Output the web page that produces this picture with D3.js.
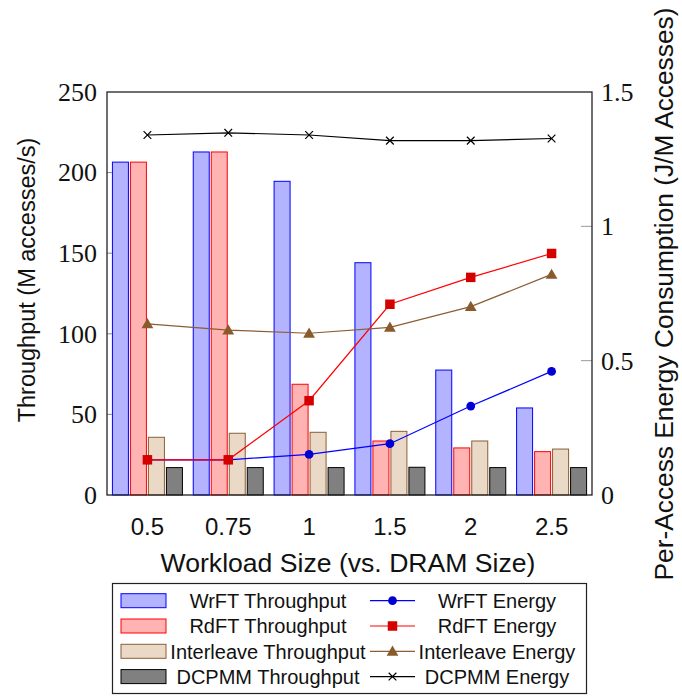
<!DOCTYPE html>
<html lang="en">
<head>
<meta charset="utf-8">
<title>Throughput and Energy vs Workload Size</title>
<style type="text/css">
  body { margin: 0; background-color: white; }
  svg { display: block; }
  .sans { font-family: "Liberation Sans", Arial, Helvetica, sans-serif; fill: #111; }
  .serif { font-family: "Liberation Serif", "Times New Roman", serif; fill: #111; }
</style>
</head>
<body>
<script src="https://cdn.jsdelivr.net/npm/d3@7"></script>
<script type="text/javascript">

  // categories and values
  var sizes = ["0.5", "0.75", "1", "1.5", "2", "2.5"];

  var wrftThroughput = [206.5, 212.8, 194.6, 144.1, 77.5, 54];
  var rdftThroughput = [206.5, 212.8, 68.7, 33.5, 29.2, 26.9];
  var interleaveThroughput = [35.8, 38.3, 38.9, 39.5, 33.5, 28.5];
  var dcpmmThroughput = [17, 17, 17, 17.2, 17, 17];

  var wrftEnergy = [0.131, 0.131, 0.151, 0.191, 0.331, 0.460];
  var rdftEnergy = [0.131, 0.131, 0.351, 0.710, 0.810, 0.899];
  var interleaveEnergy = [0.637, 0.614, 0.602, 0.624, 0.701, 0.821];
  var dcpmmEnergy = [1.340, 1.348, 1.340, 1.319, 1.319, 1.327];

  var leftTicks = [0, 50, 100, 150, 200, 250];
  var rightTicks = [0, 0.5, 1, 1.5];

  var barSeries = [
    { name: "WrFT Throughput", values: wrftThroughput, fill: "#b3b3ff", stroke: "#0000ff" },
    { name: "RdFT Throughput", values: rdftThroughput, fill: "#ffb3b3", stroke: "#ff0000" },
    { name: "Interleave Throughput", values: interleaveThroughput, fill: "#ead9c6", stroke: "#8b5e34" },
    { name: "DCPMM Throughput", values: dcpmmThroughput, fill: "#808080", stroke: "#000000" }
  ];

  var lineSeries = [
    { name: "WrFT Energy", values: wrftEnergy, stroke: "#0000ff", mark: "#0000d4", symbol: "circle" },
    { name: "RdFT Energy", values: rdftEnergy, stroke: "#ff0000", mark: "#d40000", symbol: "square" },
    { name: "Interleave Energy", values: interleaveEnergy, stroke: "#8b5e34", mark: "#8b5a2b", symbol: "triangle" },
    { name: "DCPMM Energy", values: dcpmmEnergy, stroke: "#000000", mark: "#000000", symbol: "cross" }
  ];

  var fullwidth = 682, fullheight = 697;
  var plot = { left: 107, right: 592, top: 92, bottom: 495 };

  var svg = d3.select("body").append("svg")
    .attr("width", fullwidth)
    .attr("height", fullheight);

  var xScale = d3.scaleBand().domain(sizes).range([plot.left, plot.right]);
  var xInner = d3.scaleBand().domain(d3.range(4)).range([-35, 35]).paddingInner(1 / 9);
  var yLeft = d3.scaleLinear().domain([0, 250]).range([plot.bottom, plot.top]);
  var yRight = d3.scaleLinear().domain([0, 1.5]).range([plot.bottom, plot.top]);

  function center(d) { return xScale(d) + xScale.bandwidth() / 2; }

  // bars
  barSeries.forEach(function(s, i) {
    svg.append("g").selectAll("rect")
      .data(s.values)
      .enter()
      .append("rect")
      .attr("x", function(d, j) { return center(sizes[j]) + xInner(i); })
      .attr("y", function(d) { return yLeft(d); })
      .attr("width", xInner.bandwidth())
      .attr("height", function(d) { return yLeft(0) - yLeft(d); })
      .attr("fill", s.fill)
      .attr("stroke", s.stroke)
      .attr("stroke-width", 1);
  });

  // left ticks (inside)
  svg.append("g").selectAll("line")
    .data(leftTicks.slice(1, -1))
    .enter().append("line")
    .attr("x1", plot.left).attr("x2", plot.left + 5)
    .attr("y1", function(d) { return yLeft(d); })
    .attr("y2", function(d) { return yLeft(d); })
    .attr("stroke", "#888").attr("stroke-width", 1);

  svg.append("g").selectAll("line")
    .data(rightTicks.slice(1, -1))
    .enter().append("line")
    .attr("x1", plot.right - 11).attr("x2", plot.right)
    .attr("y1", function(d) { return yRight(d); })
    .attr("y2", function(d) { return yRight(d); })
    .attr("stroke", "#999").attr("stroke-width", 1);

  // energy lines
  var symbolTypes = {
    circle: d3.symbolCircle,
    square: d3.symbolSquare,
    triangle: d3.symbolTriangle,
    cross: d3.symbolX
  };
  var symbolSizes = { circle: 60, square: 90, triangle: 60, cross: 40 };

  lineSeries.forEach(function(s) {
    var line = d3.line()
      .x(function(d, j) { return center(sizes[j]); })
      .y(function(d) { return yRight(d); });

    var g = svg.append("g");
    g.append("path")
      .datum(s.values)
      .attr("d", line)
      .attr("fill", "none")
      .attr("stroke", s.stroke)
      .attr("stroke-width", 1.2);

    g.selectAll("path.mark")
      .data(s.values)
      .enter().append("path")
      .attr("class", "mark")
      .attr("transform", function(d, j) {
        var dy = s.symbol == "triangle" ? 1 : 0;
        return "translate(" + center(sizes[j]) + "," + (yRight(d) + dy) + ")";
      })
      .attr("d", d3.symbol().type(symbolTypes[s.symbol]).size(symbolSizes[s.symbol]))
      .attr("fill", s.symbol == "cross" ? "none" : s.mark)
      .attr("stroke", s.mark)
      .attr("stroke-width", s.symbol == "cross" ? 1.2 : 0);
  });

  // frame
  svg.append("rect")
    .attr("x", plot.left).attr("y", plot.top)
    .attr("width", plot.right - plot.left)
    .attr("height", plot.bottom - plot.top)
    .attr("fill", "none")
    .attr("stroke", "#222")
    .attr("stroke-width", 1.3);

  // tick labels
  svg.append("g").selectAll("text")
    .data(leftTicks)
    .enter().append("text")
    .attr("class", "serif")
    .attr("x", 97)
    .attr("y", function(d) { return yLeft(d); })
    .attr("dy", "0.34em")
    .attr("text-anchor", "end")
    .style("font-size", "26px")
    .text(function(d) { return d; });

  svg.append("g").selectAll("text")
    .data(rightTicks)
    .enter().append("text")
    .attr("class", "serif")
    .attr("x", 601)
    .attr("y", function(d) { return yRight(d); })
    .attr("dy", "0.34em")
    .style("font-size", "26px")
    .text(function(d) { return d; });

  svg.append("g").selectAll("text")
    .data(sizes)
    .enter().append("text")
    .attr("class", "sans")
    .attr("x", function(d) { return center(d); })
    .attr("y", 535)
    .attr("text-anchor", "middle")
    .style("font-size", "24px")
    .text(function(d) { return d; });

  // axis titles
  svg.append("text")
    .attr("class", "sans")
    .attr("x", 348)
    .attr("y", 572)
    .attr("text-anchor", "middle")
    .style("font-size", "26.6px")
    .text("Workload Size (vs. DRAM Size)");

  svg.append("text")
    .attr("class", "sans")
    .attr("transform", "translate(35,280) rotate(-90)")
    .attr("text-anchor", "middle")
    .style("font-size", "23.5px")
    .text("Throughput (M accesses/s)");

  svg.append("text")
    .attr("class", "sans")
    .attr("transform", "translate(673,294) rotate(-90)")
    .attr("text-anchor", "middle")
    .style("font-size", "26.3px")
    .text("Per-Access Energy Consumption (J/M Accesses)");

  // legend
  var legend = svg.append("g");
  legend.append("rect")
    .attr("x", 112.5).attr("y", 583.5)
    .attr("width", 474).attr("height", 110)
    .attr("fill", "white")
    .attr("stroke", "#222")
    .attr("stroke-width", 1.2);

  var rowY = function(i) { return 600.7 + i * 25.3; };

  barSeries.forEach(function(s, i) {
    legend.append("rect")
      .attr("x", 121).attr("y", rowY(i) - 7)
      .attr("width", 45).attr("height", 14)
      .attr("fill", s.fill)
      .attr("stroke", s.stroke)
      .attr("stroke-width", 1);
    legend.append("text")
      .attr("class", "sans")
      .attr("x", 268).attr("y", rowY(i))
      .attr("dy", "0.36em")
      .attr("text-anchor", "middle")
      .style("font-size", "20px")
      .text(s.name);
  });

  lineSeries.forEach(function(s, i) {
    legend.append("line")
      .attr("x1", 370).attr("x2", 415)
      .attr("y1", rowY(i)).attr("y2", rowY(i))
      .attr("stroke", s.stroke)
      .attr("stroke-width", 1.2);
    legend.append("path")
      .attr("transform", "translate(392.5," + (rowY(i) + (s.symbol == "triangle" ? 1 : 0)) + ")")
      .attr("d", d3.symbol().type(symbolTypes[s.symbol]).size(symbolSizes[s.symbol]))
      .attr("fill", s.symbol == "cross" ? "none" : s.mark)
      .attr("stroke", s.mark)
      .attr("stroke-width", s.symbol == "cross" ? 1.2 : 0);
    legend.append("text")
      .attr("class", "sans")
      .attr("x", 497).attr("y", rowY(i))
      .attr("dy", "0.36em")
      .attr("text-anchor", "middle")
      .style("font-size", "20px")
      .text(s.name);
  });

</script>
</body>
</html>
